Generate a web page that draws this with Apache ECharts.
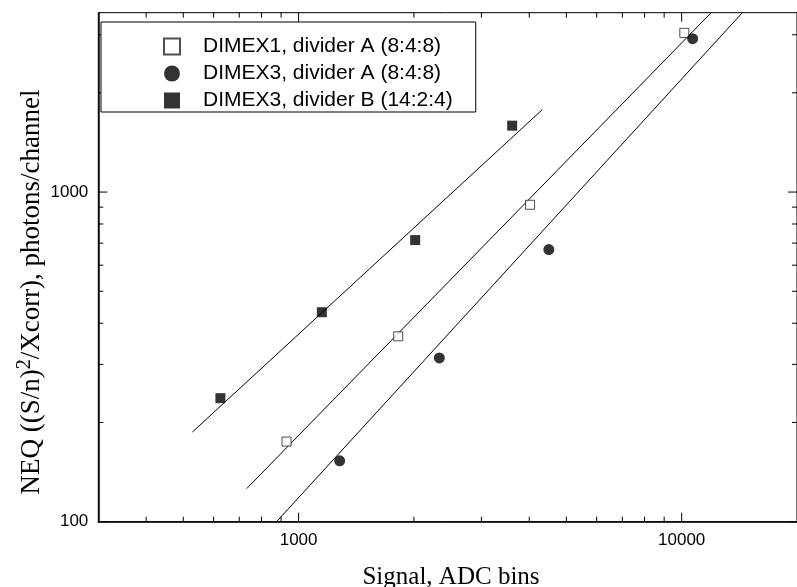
<!DOCTYPE html>
<html>
<head>
<meta charset="utf-8">
<title>NEQ vs signal</title>
<script src="https://cdn.jsdelivr.net/npm/echarts@6/dist/echarts.min.js"></script>
<style>
  html, body { margin: 0; padding: 0; background: #fff; }
  #chart { width: 797px; height: 587px; }
</style>
</head>
<body>
<div id="chart"></div>
<script>
// Axis ranges (log-log)
const X_MIN = 300, X_MAX = 20000;
const Y_MIN = 100, Y_MAX = 3500;

// Labelled (major) ticks and unlabelled (minor) ticks
const X_MAJOR = [1000, 10000];
const X_MINOR = [400, 500, 600, 700, 800, 900, 2000, 3000, 4000, 5000, 6000, 7000, 8000, 9000];
const Y_MAJOR = [100, 1000];
const Y_MINOR = [200, 300, 400, 500, 600, 700, 800, 900, 2000, 3000];

// Measured points: signal (ADC bins) and NEQ (photons/channel)
const dimex1A_signal = [930, 1820, 4020, 10160];
const dimex1A_neq    = [175, 365, 915, 3040];
const dimex3A_signal = [1280, 2330, 4500, 10680];
const dimex3A_neq    = [153, 314, 669, 2920];
const dimex3B_signal = [625, 1150, 2015, 3610];
const dimex3B_neq    = [237, 432, 715, 1590];

// Straight-line fits (end points, signal / NEQ)
const fit1A_signal = [732, 11940];
const fit1A_neq    = [126, 3500];
const fit3A_signal = [876, 14400];
const fit3A_neq    = [100, 3500];
const fit3B_signal = [528, 4330];
const fit3B_neq    = [187, 1780];

const NAMES = [
  'DIMEX1, divider A (8:4:8)',
  'DIMEX3, divider A (8:4:8)',
  'DIMEX3, divider B (14:2:4)'
];

const pairs = (xs, ys) => xs.map((x, i) => [x, ys[i]]);

const SANS = "'Liberation Sans', Arial, sans-serif";
const SERIF = "'Liberation Serif', 'Times New Roman', serif";

const fitLine = (name, xs, ys) => ({
  name: name,
  type: 'line',
  data: pairs(xs, ys),
  symbol: 'none',
  silent: true,
  lineStyle: { color: '#000', width: 1 },
  z: 2
});

// Inward ticks drawn on both opposite sides of the frame
function xTickItem(params, api) {
  const v = api.value(0);
  const len = X_MAJOR.indexOf(Math.round(v)) >= 0 ? 9 : 5;
  const b = api.coord([v, Y_MIN]);
  const t = api.coord([v, Y_MAX]);
  const st = { stroke: '#000', lineWidth: 1 };
  return { type: 'group', children: [
    { type: 'line', shape: { x1: b[0], y1: b[1], x2: b[0], y2: b[1] - len }, style: st },
    { type: 'line', shape: { x1: t[0], y1: t[1], x2: t[0], y2: t[1] + len }, style: st }
  ]};
}
function yTickItem(params, api) {
  const v = api.value(1);
  const len = Y_MAJOR.indexOf(Math.round(v)) >= 0 ? 9 : 5;
  const l = api.coord([X_MIN, v]);
  const r = api.coord([X_MAX, v]);
  const st = { stroke: '#000', lineWidth: 1 };
  return { type: 'group', children: [
    { type: 'line', shape: { x1: l[0], y1: l[1], x2: l[0] + len, y2: l[1] }, style: st },
    { type: 'line', shape: { x1: r[0], y1: r[1], x2: r[0] - len, y2: r[1] }, style: st }
  ]};
}

const chart = echarts.init(document.getElementById('chart'), null, { renderer: 'canvas' });

chart.setOption({
  animation: false,
  backgroundColor: '#fff',
  grid: {
    left: 98.3, top: 12.7, right: -6.8, bottom: 65.3,
    show: true, borderColor: '#000', borderWidth: 1, backgroundColor: 'transparent'
  },
  xAxis: {
    type: 'log', logBase: 10, min: X_MIN, max: X_MAX,
    axisLine: { show: true, lineStyle: { color: '#000', width: 1.5 } },
    axisTick: { show: false },
    splitLine: { show: false },
    minorTick: { show: false },
    axisLabel: {
      margin: 10, color: '#000', fontFamily: SANS, fontSize: 17,
      showMinLabel: false, showMaxLabel: false,
      formatter: v => X_MAJOR.indexOf(Math.round(v)) >= 0 ? String(Math.round(v)) : ''
    }
  },
  yAxis: {
    type: 'log', logBase: 10, min: Y_MIN, max: Y_MAX,
    axisLine: { show: true, lineStyle: { color: '#000', width: 1.5 } },
    axisTick: { show: false },
    splitLine: { show: false },
    minorTick: { show: false },
    axisLabel: {
      margin: 10, color: '#000', fontFamily: SANS, fontSize: 17,
      showMinLabel: true, showMaxLabel: false,
      formatter: v => Y_MAJOR.indexOf(Math.round(v)) >= 0 ? String(Math.round(v)) : ''
    }
  },
  legend: {
    orient: 'vertical',
    left: 101, top: 22,
    padding: [14, 23, 1, 62],
    itemWidth: 16, itemHeight: 16, itemGap: 6,
    borderColor: '#000', borderWidth: 1, borderRadius: 0,
    backgroundColor: '#fff',
    textStyle: { fontFamily: SANS, fontSize: 21, color: '#000', padding: [0, 0, 0, 18] },
    data: NAMES
  },
  graphic: [
    {
      type: 'text', x: 451, y: 577,
      style: {
        text: 'Signal, ADC bins', fontFamily: SERIF, fontSize: 25, fill: '#000',
        align: 'center', verticalAlign: 'middle'
      }
    },
    {
      type: 'text', x: 32, y: 292, rotation: Math.PI / 2,
      style: {
        text: '{a|NEQ ((S/n)}{s|2}{a|/Xcorr), photons/channel}',
        align: 'center', verticalAlign: 'middle',
        rich: {
          a: { fontFamily: SERIF, fontSize: 27, lineHeight: 34, fill: '#000', verticalAlign: 'middle' },
          s: { fontFamily: SERIF, fontSize: 20, lineHeight: 20, fill: '#000', verticalAlign: 'top' }
        }
      }
    }
  ],
  series: [
    fitLine('fit-1A', fit1A_signal, fit1A_neq),
    fitLine('fit-3A', fit3A_signal, fit3A_neq),
    fitLine('fit-3B', fit3B_signal, fit3B_neq),
    {
      name: 'x-ticks', type: 'custom', silent: true, clip: false,
      data: X_MINOR.concat(X_MAJOR).map(v => [v, Y_MIN]),
      renderItem: xTickItem, z: 3
    },
    {
      name: 'y-ticks', type: 'custom', silent: true, clip: false,
      data: Y_MINOR.concat(Y_MAJOR).map(v => [X_MIN, v]),
      renderItem: yTickItem, z: 3
    },
    {
      name: NAMES[0], type: 'scatter', data: pairs(dimex1A_signal, dimex1A_neq),
      symbol: 'rect', symbolSize: 9,
      itemStyle: { color: '#fff', borderColor: '#222', borderWidth: 1 }, z: 4
    },
    {
      name: NAMES[1], type: 'scatter', data: pairs(dimex3A_signal, dimex3A_neq),
      symbol: 'circle', symbolSize: 11,
      itemStyle: { color: '#000' }, z: 4
    },
    {
      name: NAMES[2], type: 'scatter', data: pairs(dimex3B_signal, dimex3B_neq),
      symbol: 'rect', symbolSize: 10,
      itemStyle: { color: '#000' }, z: 4
    }
  ]
});
</script>
</body>
</html>
